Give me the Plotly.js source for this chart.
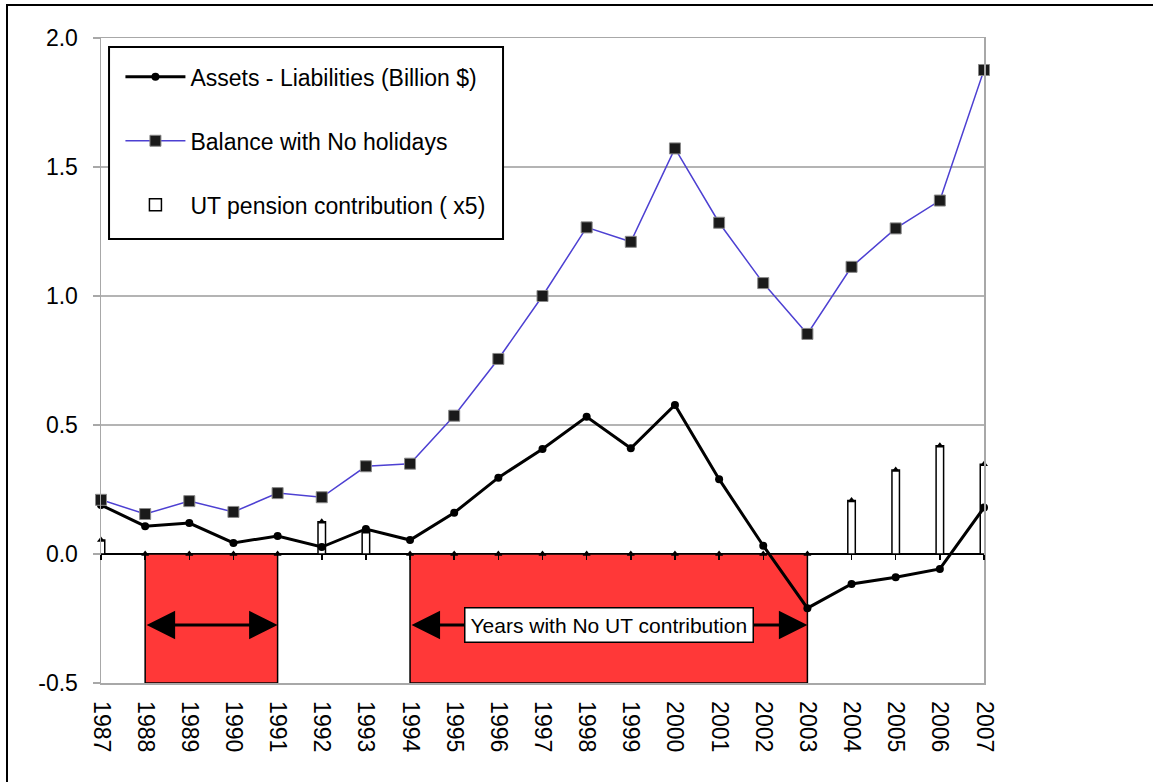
<!DOCTYPE html>
<html>
<head>
<meta charset="utf-8">
<script src="https://cdn.plot.ly/plotly-3.0.1.min.js"></script>
<style>
  html, body { margin: 0; padding: 0; background: #fff; }
  #wrap { position: relative; width: 1153px; height: 782px; overflow: hidden; }
  #chart { width: 1153px; height: 782px; }
  #frame { position: absolute; left: 6px; top: 4px; width: 1200px; height: 900px;
           border-left: 2px solid #000; border-top: 2px solid #000; pointer-events: none; }
</style>
</head>
<body>
<div id="wrap">
  <div id="chart"></div>
  <div id="frame"></div>
</div>
<script>
// ---- data ----
const years = [1987, 1988, 1989, 1990, 1991, 1992, 1993, 1994, 1995, 1996, 1997,
               1998, 1999, 2000, 2001, 2002, 2003, 2004, 2005, 2006, 2007];
const assetsMinusLiabilities = [0.19, 0.108, 0.12, 0.043, 0.07, 0.027, 0.097, 0.054, 0.16, 0.296, 0.407,
                                0.532, 0.41, 0.578, 0.29, 0.032, -0.21, -0.116, -0.09, -0.058, 0.18];
const balanceNoHolidays = [0.21, 0.155, 0.205, 0.163, 0.236, 0.22, 0.34, 0.35, 0.536, 0.756, 1.0,
                           1.266, 1.21, 1.572, 1.284, 1.05, 0.853, 1.113, 1.262, 1.37, 1.876];
const utContributionX5 = [0.054, 0, 0, 0, 0, 0.125, 0.086, 0, 0, 0, 0,
                          0, 0, 0, 0, 0, 0, 0.207, 0.326, 0.42, 0.348];
const holidayStart = [1988, 1994];
const holidayEnd = [1991, 2003];
const holidayLabels = ["", "Years with No UT contribution"];
const seriesNames = ["Assets - Liabilities (Billion $)", "Balance with No holidays", "UT pension contribution ( x5)"];
const yTickVals = [-0.5, 0, 0.5, 1.0, 1.5, 2.0];
const yTickText = ["-0.5", "0.0", "0.5", "1.0", "1.5", "2.0"];

const FONT = "Liberation Sans, Arial, Helvetica, sans-serif";
const yMin = -0.5, yMax = 2.0;
const zeroPos = (0 - yMin) / (yMax - yMin);

const traces = [
  {
    x: years, y: assetsMinusLiabilities, name: seriesNames[0], type: "scatter", mode: "lines+markers",
    line: { color: "#000", width: 3 },
    marker: { symbol: "circle", size: 8, color: "#000" },
    legendgroup: "a", cliponaxis: false
  },
  {
    x: years, y: balanceNoHolidays, name: seriesNames[1], type: "scatter", mode: "lines+markers",
    line: { color: "#4d40d2", width: 1.5 },
    marker: { symbol: "square", size: 11, color: "#1a1a1a", line: { color: "#888", width: 1 } },
    legendgroup: "b", cliponaxis: false
  },
  {
    x: years, y: utContributionX5, name: seriesNames[2], type: "bar", width: 0.17,
    marker: { color: "#fff", line: { color: "#000", width: 1.5 } },
    legendgroup: "c"
  },
  {
    x: years, y: utContributionX5, name: seriesNames[2], type: "scatter", mode: "markers",
    xaxis: "x2",
    marker: { symbol: "triangle-up", size: 7, color: "#000" },
    showlegend: false, legendgroup: "c", cliponaxis: false, hoverinfo: "skip"
  }
];

const shapes = holidayStart.map((s, i) => ({
  type: "rect", xref: "x", yref: "y", x0: s, x1: holidayEnd[i], y0: 0, y1: yMin,
  fillcolor: "#ff3838", line: { color: "#000", width: 1.5 }, layer: "between"
}));
// legend frame
shapes.push({
  type: "rect", xref: "paper", yref: "paper",
  x0: 0.0091, x1: 0.4553, y0: 0.6884, y1: 0.9861,
  fillcolor: "#fff", line: { color: "#000", width: 2 }, layer: "above"
});

const arrowY = -0.275;
const annotations = [];
holidayStart.forEach((s, i) => {
  annotations.push({
    xref: "x", yref: "y", axref: "x", ayref: "y",
    x: holidayEnd[i], y: arrowY, ax: s, ay: arrowY,
    text: "", showarrow: true, arrowside: "end+start",
    arrowhead: 2, arrowsize: 1.9, arrowwidth: 3, arrowcolor: "#000",
    standoff: 0, startstandoff: 0
  });
  if (holidayLabels[i]) {
    annotations.push({
      xref: "x", yref: "y", x: (s + holidayEnd[i]) / 2, y: arrowY,
      text: holidayLabels[i], showarrow: false,
      font: { family: FONT, size: 21, color: "#000" },
      bgcolor: "#fff", bordercolor: "#000", borderwidth: 1.5, borderpad: 5
    });
  }
});

const layout = {
  width: 1153, height: 782,
  margin: { l: 101, r: 169, t: 38, b: 99 },
  paper_bgcolor: "#fff", plot_bgcolor: "#fff",
  font: { family: FONT, size: 23, color: "#000" },
  showlegend: true,
  barmode: "overlay",
  xaxis: {
    range: [1987, 2007], tickvals: years, ticktext: years.map(String), tickangle: 90,
    showgrid: false, zeroline: false,
    showline: true, linecolor: "#a8a8a8", linewidth: 1.5, mirror: true,
    ticks: "", ticklabelstandoff: 12,
    tickfont: { family: FONT, size: 23, color: "#000" }
  },
  xaxis2: {
    overlaying: "x", anchor: "free", position: zeroPos, side: "bottom",
    range: [1987, 2007], tickvals: years, showticklabels: false,
    showgrid: false, zeroline: false, showline: false,
    ticks: "outside", ticklen: 5, tickwidth: 1.5, tickcolor: "#000"
  },
  xaxis3: {
    overlaying: "x", anchor: "free", position: zeroPos, side: "bottom",
    range: [1987, 2007], tickvals: years, showticklabels: false,
    showgrid: false, zeroline: false, showline: false,
    ticks: "inside", ticklen: 5, tickwidth: 1.5, tickcolor: "#000"
  },
  yaxis: {
    range: [yMin, yMax], tickvals: yTickVals, ticktext: yTickText,
    showgrid: true, gridcolor: "#b4b4b4", gridwidth: 1.5,
    zeroline: true, zerolinecolor: "#000", zerolinewidth: 1.5,
    showline: true, linecolor: "#a8a8a8", linewidth: 1.5, mirror: true,
    ticks: "outside", ticklen: 7, tickcolor: "#a8a8a8", tickwidth: 1.5,
    ticklabelstandoff: 10,
    tickfont: { family: FONT, size: 23, color: "#000" }
  },
  legend: {
    x: 0.022, y: 0.973, xanchor: "left", yanchor: "top",
    bgcolor: "rgba(0,0,0,0)", borderwidth: 0,
    font: { family: FONT, size: 23, color: "#000" },
    traceorder: "grouped", tracegroupgap: 31, itemwidth: 60
  },
  shapes: shapes,
  annotations: annotations
};

Plotly.newPlot("chart", traces, layout, { displayModeBar: false, staticPlot: true });
</script>
</body>
</html>
